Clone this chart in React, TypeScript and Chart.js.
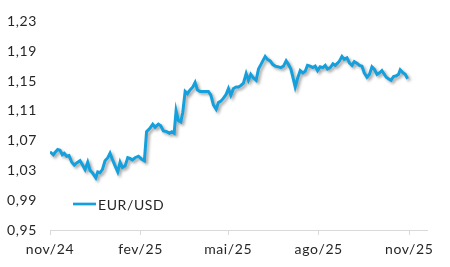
import React, { useEffect, useRef } from "react";
import { Chart, registerables } from "chart.js";

Chart.register(...registerables);

const seriesLabel = "EUR/USD";
const tickDays = [0, 92, 181, 273, 365];
const tickLabels = ["nov/24", "fev/25", "mai/25", "ago/25", "nov/25"];
const yTicks = [0.95, 0.99, 1.03, 1.07, 1.11, 1.15, 1.19, 1.23];

const days = [
  0, 3.4, 5.1, 7.8, 10.2, 12.5, 14.5, 17.0, 19.3, 22.1, 24.7, 27.1, 30.5, 32.8, 35.6, 38.3, 40.7, 43.0, 46.5, 48.5,
  50.8, 53.2, 55.9, 58.7, 61.0, 63.3, 66.1, 68.8, 71.2, 73.5, 76.3, 79.0, 81.3, 83.7, 86.4, 89.8, 93.2, 95.9, 98.1,
  101.7, 104.4, 106.8, 110.1, 112.5, 115.2, 118.6, 121.3, 123.7, 126.1, 128.1, 130.4, 132.9, 134.9, 137.3, 139.6,
  142.3, 145.1, 147.4, 149.8, 152.5, 155.9, 158.6, 160.9, 163.4, 166.0, 168.8, 171.1, 173.6, 176.2, 178.9, 181.3,
  183.7, 186.4, 189.1, 191.4, 193.9, 196.5, 199.3, 201.6, 204.0, 206.7, 209.4, 211.8, 214.2, 216.2, 218.6, 220.9,
  223.7, 226.4, 228.8, 232.1, 234.5, 237.2, 239.9, 242.3, 244.7, 246.8, 249.1, 251.4, 254.2, 256.9, 259.3, 261.6,
  264.3, 267.1, 269.4, 271.8, 274.5, 277.2, 279.6, 281.9, 284.7, 287.4, 289.8, 292.1, 294.1, 296.6, 298.9, 301.7,
  304.3, 306.8, 309.1, 311.8, 314.5, 316.9, 319.2, 322.0, 324.6, 327.1, 329.4, 332.2, 334.8, 337.2, 339.6, 341.6,
  343.9, 346.4, 349.0, 351.8, 354.1, 355.8, 358.6, 360.9, 363.3,
];

const rates = [
  1.055, 1.051, 1.054, 1.058, 1.057, 1.051, 1.053, 1.049, 1.050, 1.041, 1.037, 1.040, 1.043, 1.038, 1.031, 1.041,
  1.030, 1.027, 1.020, 1.028, 1.027, 1.031, 1.043, 1.047, 1.053, 1.045, 1.036, 1.028, 1.041, 1.034, 1.036, 1.047,
  1.046, 1.044, 1.047, 1.049, 1.045, 1.043, 1.082, 1.087, 1.092, 1.088, 1.092, 1.090, 1.083, 1.082, 1.080, 1.082,
  1.080, 1.110, 1.097, 1.095, 1.108, 1.136, 1.133, 1.138, 1.142, 1.148, 1.138, 1.136, 1.136, 1.136, 1.136, 1.131,
  1.118, 1.112, 1.121, 1.123, 1.127, 1.132, 1.140, 1.131, 1.140, 1.142, 1.142, 1.144, 1.147, 1.160, 1.151, 1.159,
  1.154, 1.151, 1.166, 1.172, 1.177, 1.183, 1.179, 1.177, 1.172, 1.170, 1.169, 1.168, 1.170, 1.177, 1.172, 1.166,
  1.155, 1.142, 1.153, 1.164, 1.161, 1.163, 1.171, 1.170, 1.168, 1.170, 1.164, 1.169, 1.168, 1.171, 1.166, 1.168,
  1.173, 1.171, 1.174, 1.177, 1.183, 1.179, 1.181, 1.174, 1.171, 1.176, 1.174, 1.171, 1.170, 1.161, 1.155, 1.159,
  1.169, 1.166, 1.159, 1.161, 1.164, 1.159, 1.155, 1.153, 1.151, 1.156, 1.157, 1.159, 1.165, 1.161, 1.159, 1.153,
];

const LINE_COLOR = "#14a0dc";
const TEXT_COLOR = "#262626";
const FONT_FAMILY = "Lato, 'Open Sans', sans-serif";

const spacingPlugin = {
  id: "spacing",
  beforeUpdate(chart: any) {
    chart.ctx.letterSpacing = "0.6px";
  },
  beforeDraw(chart: any) {
    chart.ctx.letterSpacing = "0.6px";
  },
};

const shadowPlugin = {
  id: "lineShadow",
  beforeDatasetsDraw(chart: any) {
    const ctx = chart.ctx;
    ctx.save();
    ctx.shadowColor = "rgba(0,0,0,0.35)";
    ctx.shadowBlur = 3;
    ctx.shadowOffsetX = 2;
    ctx.shadowOffsetY = 2;
  },
  afterDatasetsDraw(chart: any) {
    chart.ctx.restore();
  },
};

const legendPlugin = {
  id: "innerLegend",
  afterDraw(chart: any) {
    const ctx = chart.ctx;
    const area = chart.chartArea;
    const ds = chart.data.datasets[0];
    const y = area.bottom - 26;
    const x0 = area.left + 23;
    ctx.save();
    ctx.strokeStyle = ds.borderColor;
    ctx.lineWidth = 2.7;
    ctx.beginPath();
    ctx.moveTo(x0, y);
    ctx.lineTo(x0 + 23, y);
    ctx.stroke();
    ctx.fillStyle = TEXT_COLOR;
    ctx.font = `14px ${FONT_FAMILY}`;
    ctx.textBaseline = "middle";
    ctx.textAlign = "left";
    ctx.fillText(ds.label, x0 + 25, y + 1);
    ctx.restore();
  },
};

export default function App() {
  const ref = useRef<HTMLCanvasElement>(null);
  useEffect(() => {
    if (!ref.current) return;
    const chart = new Chart(ref.current, {
      type: "line",
      data: {
        datasets: [
          {
            label: seriesLabel,
            data: days.map((d, i) => ({ x: d, y: rates[i] })),
            borderColor: LINE_COLOR,
            backgroundColor: LINE_COLOR,
            borderWidth: 3,
            pointRadius: 0,
            tension: 0,
            fill: false,
          },
        ],
      },
      options: {
        animation: false,
        responsive: true,
        maintainAspectRatio: false,
        layout: { padding: { top: 6.6, right: 23, bottom: 0, left: 0 } },
        plugins: { legend: { display: false }, tooltip: { enabled: false } },
        scales: {
          x: {
            type: "linear",
            min: 0,
            max: 383,
            afterBuildTicks(scale: any) {
              scale.ticks = tickDays.map((v) => ({ value: v }));
            },
            afterFit(scale: any) {
              scale.height = 37;
            },
            ticks: {
              autoSkip: false,
              maxRotation: 0,
              padding: 6,
              color: TEXT_COLOR,
              font: { family: FONT_FAMILY, size: 14 },
              callback(value: any) {
                const i = tickDays.indexOf(Number(value));
                return i >= 0 ? tickLabels[i] : "";
              },
            },
            grid: {
              drawOnChartArea: false,
              drawTicks: true,
              tickLength: 5,
              color: "#d9d9d9",
            },
            border: { display: true, color: "#d9d9d9", width: 1 },
          },
          y: {
            min: 0.95,
            max: 1.23,
            afterBuildTicks(scale: any) {
              scale.ticks = yTicks.map((v) => ({ value: v }));
            },
            afterFit(scale: any) {
              scale.width = 50;
            },
            ticks: {
              padding: 13,
              color: TEXT_COLOR,
              font: { family: FONT_FAMILY, size: 14 },
              callback(value: any) {
                return Number(value).toFixed(2).replace(".", ",");
              },
            },
            grid: { display: false, drawTicks: false },
            border: { display: false },
          },
        },
      },
      plugins: [spacingPlugin, shadowPlugin, legendPlugin],
    });
    return () => chart.destroy();
  }, []);
  return (
    <div style={{ position: "fixed", left: 0, top: 0, width: 450, height: 267 }}>
      <canvas ref={ref} />
    </div>
  );
}
